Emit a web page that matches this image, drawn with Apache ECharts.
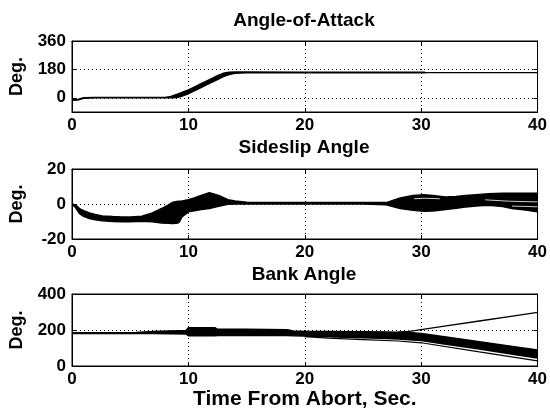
<!DOCTYPE html>
<html>
<head>
<meta charset="utf-8">
<script src="https://cdn.jsdelivr.net/npm/echarts@6/dist/echarts.min.js"></script>
<style>html,body{margin:0;padding:0;background:#fff}#c{width:550px;height:412px}</style>
</head>
<body>
<div id="c"></div>
<script>
// ---------- data ----------
const panelTitles = ['Angle-of-Attack', 'Sideslip Angle', 'Bank Angle'];
const xTicks = [0, 10, 20, 30, 40];
const aoaTicks = [0, 180, 360];
const betaTicks = [-20, 0, 20];
const bankTicks = [0, 200, 400];

// Angle of attack (envelope of dispersed runs)
const aoaTime = [0, 0.5, 1, 2, 6, 8, 8.5, 9, 9.5, 10, 10.5, 11, 11.5, 12, 12.5, 13, 13.5, 14, 15, 20, 25, 30.3];
const aoaLow  = [-16, -14, -3, 0, 0, 0, 0, 2, 12, 26, 44, 62, 80, 98, 116, 134, 148, 156, 158, 158, 158, 158];
const aoaHigh = [-12, -10, 1, 2, 2, 2, 8, 22, 36, 50, 68, 86, 104, 122, 140, 155, 162, 163, 163, 162, 162, 162];
const aoaTailTime = [30.3, 40];
const aoaTail = [160, 160];

// Sideslip angle
const betaTime = [0, 0.3, 0.65, 1, 1.5, 2, 2.6, 3.5, 4.3, 5, 6, 6.9, 7.7, 8.3, 8.6, 9, 9.2, 9.45, 10, 10.5, 11.1, 11.8, 12.6, 13.4, 14, 15, 20, 25, 27, 28.2, 29.3, 30.2, 31, 32.1, 33, 33.8, 35, 35.8, 37, 37.8, 39, 40];
const betaLow  = [0, -2, -5.5, -7, -8.3, -9, -9.6, -10, -10.2, -10.2, -9.8, -10.2, -10.8, -11, -11.1, -11, -10.5, -7.4, -4.5, -3.8, -3.2, -2.6, -1.3, -0.2, 0, 0, 0, 0, -0.5, -2.6, -3.6, -4.1, -4, -3.2, -2.5, -1.7, -1, -0.7, -1.5, -2.6, -3.5, -4.5];
const betaHigh = [0, -0.5, -2.6, -3.8, -5.1, -6, -6.8, -7.2, -7.4, -7.4, -7, -5.1, -2.6, -0.5, 0.8, 1.5, 1.6, 1.7, 2.5, 3.5, 4.9, 6.5, 4.9, 2.5, 1.7, 1, 0.8, 0.8, 0.8, 3.4, 4.9, 5.3, 4.8, 4, 4.3, 4.9, 5.5, 5.9, 6.1, 6.2, 6.2, 6.2];
// white gaps between individual runs inside the late sideslip band
const betaGapATime = [29.4, 30.3, 31.6];
const betaGapA = [3.0, 3.3, 3.0];
const betaGapBTime = [35.5, 37.5, 40];
const betaGapB = [2.4, 1.6, 1.2];
const betaGapCTime = [37.8, 39, 40];
const betaGapC = [-1.2, -1.4, -1.6];

// Bank angle
const bankTime = [0, 5.5, 7, 9.8, 10, 12.3, 12.5, 15, 18.5, 19, 20, 22, 25, 27, 28, 29, 30, 32, 35, 38, 40];
const bankLow  = [181, 181, 180, 178, 168, 168, 169, 170, 170, 168, 166, 162, 157, 153, 150, 146, 141, 122, 94, 64, 45];
const bankHigh = [185, 186, 192, 197, 212, 212, 204, 204, 202, 195, 191, 191, 190, 189, 188, 186, 181, 163, 135, 107, 89];
const bankUpTime = [28, 29, 30, 32, 35, 38, 40];
const bankUp = [188, 192, 202, 221, 250, 279, 298];
const bankMinTime = [20, 22, 25, 28, 30, 35, 40];
const bankMin = [163, 155, 147, 139, 129, 78, 28];

// ---------- chart ----------
const FONT = 'Liberation Sans, Arial, Helvetica, sans-serif';
const grids = [
  {left: 69, right: 11, top: 41, height: 71},
  {left: 69, right: 11, top: 169, height: 70},
  {left: 69, right: 11, top: 294, height: 72}
];
const titleCenters = [21, 148, 275];
const yRanges = [[-90, 360, aoaTicks], [-20, 20, betaTicks], [0, 400, bankTicks]];

const pairs = (t, v) => t.map((x, i) => [x, v[i]]);

const gridLine = {show: true, lineStyle: {color: '#000', width: 1, type: [1, 3]}};
const tickLbl = {color: '#000', fontFamily: FONT, fontWeight: 'bold', fontSize: 17};

const xAxes = [], yAxes = [];
grids.forEach((g, i) => {
  xAxes.push({
    type: 'value', gridIndex: i, min: 0, max: 40, interval: 10, position: 'bottom',
    axisLine: {show: true, onZero: false, lineStyle: {color: '#000', width: 1}},
    axisTick: {show: true, inside: true, length: 4, lineStyle: {color: '#000'}},
    axisLabel: Object.assign({margin: 5, customValues: xTicks}, tickLbl),
    splitLine: gridLine,
    name: i === 2 ? 'Time From Abort, Sec.' : '',
    nameLocation: 'middle', nameGap: 21,
    nameTextStyle: {color: '#000', fontFamily: FONT, fontWeight: 'bold', fontSize: 21}
  });
  xAxes.push({
    type: 'value', gridIndex: i, min: 0, max: 40, interval: 10, position: 'top',
    axisLine: {show: true, onZero: false, lineStyle: {color: '#000', width: 1}},
    axisTick: {show: true, inside: true, length: 4, lineStyle: {color: '#000'}},
    axisLabel: {show: false}, splitLine: {show: false}
  });
  const [mn, mx, tk] = yRanges[i];
  yAxes.push({
    type: 'value', gridIndex: i, min: mn, max: mx, position: 'left',
    axisLine: {show: true, onZero: false, lineStyle: {color: '#000', width: 1}},
    axisTick: {show: true, inside: true, length: 4, customValues: tk, lineStyle: {color: '#000'}},
    axisLabel: Object.assign({margin: 6, customValues: tk}, tickLbl),
    splitLine: gridLine,
    name: 'Deg.', nameLocation: 'middle', nameGap: 46, nameRotate: 90,
    nameTextStyle: {color: '#000', fontFamily: FONT, fontWeight: 'bold', fontSize: 18}
  });
  yAxes.push({
    type: 'value', gridIndex: i, min: mn, max: mx, position: 'right',
    axisLine: {show: true, onZero: false, lineStyle: {color: '#000', width: 1}},
    axisTick: {show: true, inside: true, length: 4, customValues: tk, lineStyle: {color: '#000'}},
    axisLabel: {show: false}, splitLine: {show: false}
  });
});

// filled envelope between a low and a high curve, drawn through the axis scales
function band(idx, t, lo, hi) {
  return {
    type: 'custom', coordinateSystem: 'cartesian2d',
    xAxisIndex: idx * 2, yAxisIndex: idx * 2, silent: true, clip: true,
    data: t.map((x, i) => [x, lo[i], hi[i]]),
    encode: {x: 0, y: [1, 2]},
    renderItem: function (params, api) {
      if (params.dataIndex !== 0) return null;
      const pts = [];
      for (let i = 0; i < t.length; i++) pts.push(api.coord([t[i], lo[i]]));
      for (let i = t.length - 1; i >= 0; i--) pts.push(api.coord([t[i], hi[i]]));
      return {
        type: 'polygon',
        shape: {points: pts},
        style: {fill: '#000', stroke: '#000', lineWidth: 1.5, lineJoin: 'round'}
      };
    }
  };
}
function line(idx, t, v, w, color) {
  return {type: 'line', xAxisIndex: idx * 2, yAxisIndex: idx * 2, data: pairs(t, v),
    symbol: 'none', silent: true, lineStyle: {color: color || '#000', width: w}};
}

const series = [
  band(0, aoaTime, aoaLow, aoaHigh),
  line(0, aoaTailTime, aoaTail, 1.2),
  band(1, betaTime, betaLow, betaHigh),
  line(1, betaGapATime, betaGapA, 0.8, '#fff'),
  line(1, betaGapBTime, betaGapB, 0.8, '#fff'),
  line(1, betaGapCTime, betaGapC, 0.8, '#fff'),
  band(2, bankTime, bankLow, bankHigh),
  line(2, bankUpTime, bankUp, 1.3),
  line(2, bankMinTime, bankMin, 1.2)
];

const chart = echarts.init(document.getElementById('c'), null, {renderer: 'canvas'});
chart.setOption({
  animation: false,
  backgroundColor: '#fff',
  title: panelTitles.map((txt, i) => ({
    text: txt, left: 304, top: titleCenters[i], textAlign: 'center', textVerticalAlign: 'middle',
    padding: 0,
    textStyle: {color: '#000', fontFamily: FONT, fontWeight: 'bold', fontSize: 19}
  })),
  grid: grids.map(g => Object.assign({show: true, borderColor: '#000', borderWidth: 1, backgroundColor: '#fff', containLabel: false}, g)),
  xAxis: xAxes,
  yAxis: yAxes,
  series: series
});
</script>
</body>
</html>
